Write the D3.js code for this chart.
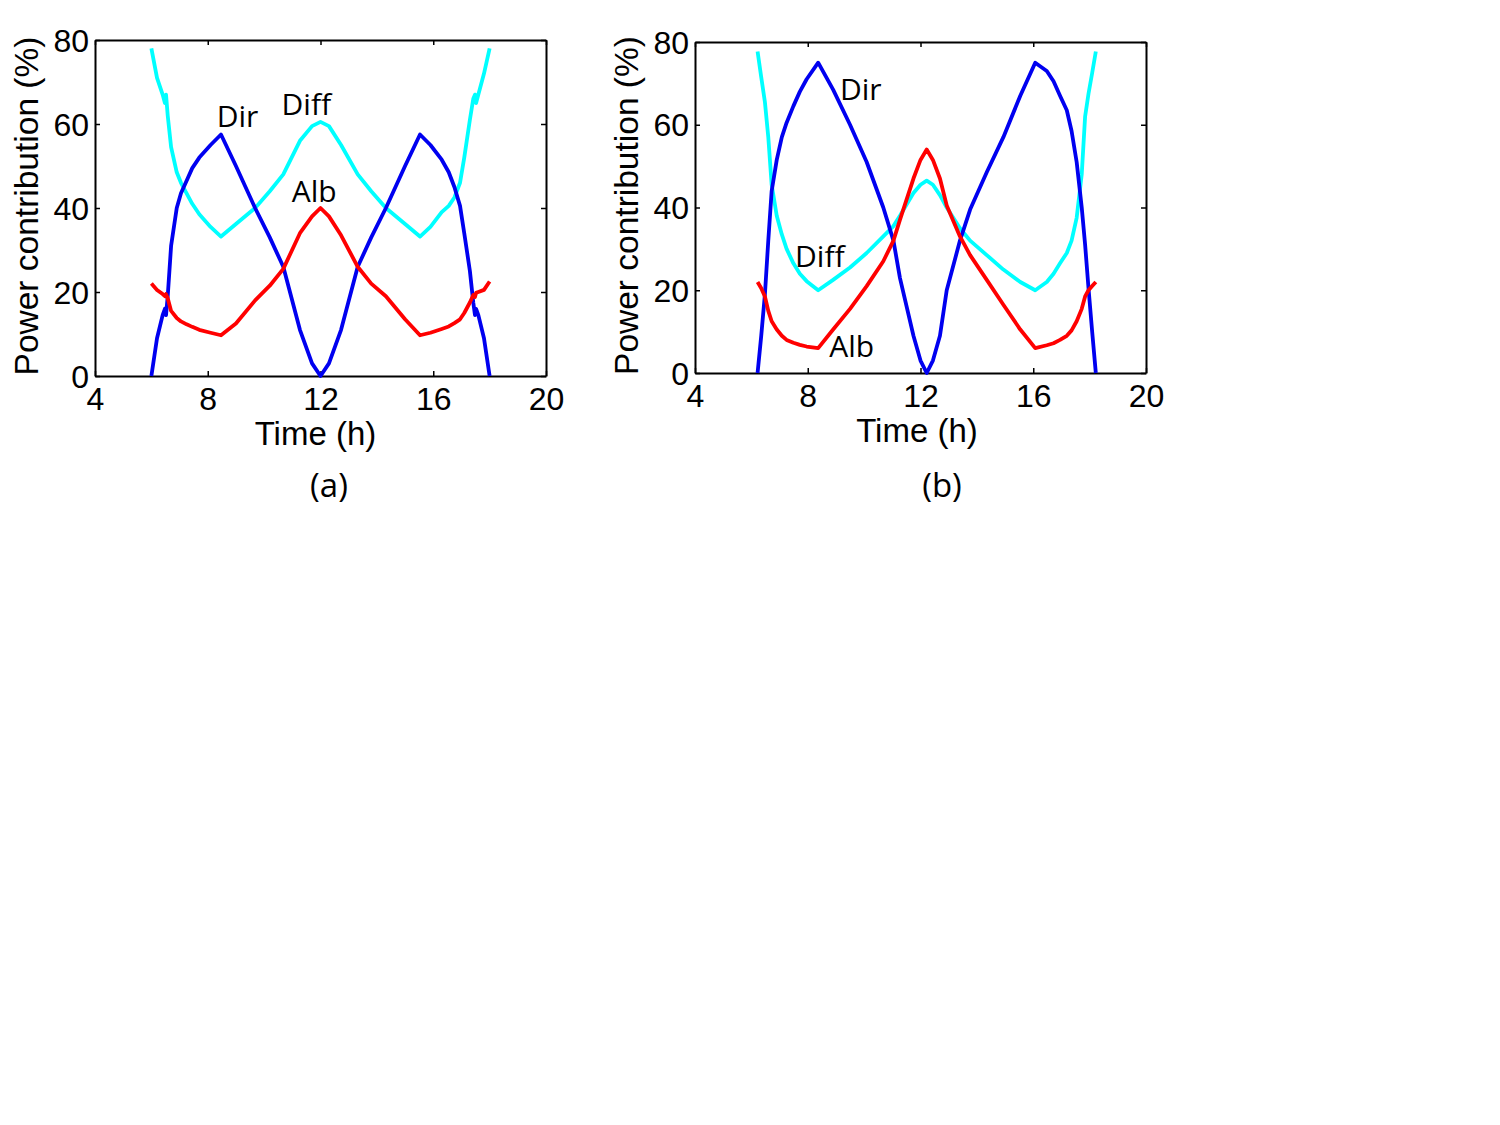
<!DOCTYPE html>
<html>
<head>
<meta charset="utf-8">
<script src="https://cdn.jsdelivr.net/npm/d3@7"></script>
<style>
  body { margin: 0; background: #fff; }
  svg { display: block; }
  .tick text { font-family: "Liberation Sans", Arial, sans-serif; }
</style>
</head>
<body>
<div id="chart"></div>
<script>
// Panel (a)
const hoursA = [6.0, 6.2, 6.4, 6.48, 6.52, 6.58, 6.7, 6.9, 7.05, 7.25, 7.45, 7.7, 8.1, 8.47, 9.0, 9.68, 10.2, 10.68, 11.27, 11.7, 12.0,
  12.3, 12.73, 13.32, 13.8, 14.32, 15.0, 15.53, 15.9, 16.3, 16.55, 16.75, 16.95, 17.1, 17.3, 17.42, 17.48, 17.52, 17.6, 17.8, 18.0]
const dirA = [0, 9, 14.5, 16, 14.5, 19, 31, 40, 43.5, 46.5, 49.5, 52, 55, 57.5, 50, 40, 33, 26, 11, 3, 0,
  3, 11, 26, 33, 40, 50, 57.5, 55, 51.5, 48.5, 45, 40.5, 34, 25, 17.5, 14.5, 16, 14.5, 9, 0]
const diffA = [78, 71, 67, 65, 67, 62, 54.5, 48.5, 46, 43.5, 41, 38.5, 35.5, 33.2, 36.2, 40, 44, 48, 56, 59.5, 60.5,
  59.5, 55, 48, 44, 40, 36.2, 33.2, 35.5, 39, 40.5, 42.5, 46, 52, 61, 66, 67, 65, 67, 72, 78]
const albA = [22, 20.5, 19.5, 19, 19.5, 18.5, 15.5, 13.8, 13, 12.3, 11.7, 11, 10.3, 9.7, 12.5, 18, 21.5, 25.5, 34, 38, 40,
  38, 33.5, 26, 22, 19, 13.5, 9.7, 10.3, 11.2, 11.8, 12.6, 13.5, 15, 17.5, 19.3, 18.8, 19.8, 20, 20.5, 22.5]

// Panel (b)
const hoursB = [6.22, 6.35, 6.48, 6.6, 6.72, 6.9, 7.08, 7.25, 7.49, 7.72, 7.96, 8.37, 8.9, 9.5, 10.09, 10.68, 11.04, 11.27, 11.75, 12.0, 12.22,
  12.44, 12.69, 12.93, 13.4, 13.76, 14.35, 14.94, 15.54, 16.07, 16.48, 16.72, 16.95, 17.19, 17.36, 17.54, 17.72, 17.84, 17.96, 18.09, 18.22]
const dirB = [0, 9, 19, 32, 44, 51.5, 57, 60.5, 64.5, 68, 71, 75, 68.5, 60, 51, 40, 32, 23, 9, 3, 0,
  3, 9, 20, 32, 39.5, 48.5, 57, 67, 75, 73, 70.5, 67, 63.5, 58.5, 51, 40, 31, 20.5, 10, 0]
const diffB = [77.7, 71.5, 65.5, 57, 45.5, 38, 33.5, 30, 26.5, 24, 22.2, 20, 22.5, 25.5, 29, 33, 35.5, 38, 43.5, 45.5, 46.5,
  45.5, 43, 40, 35, 32, 28.5, 25, 22, 20, 22, 24, 26.5, 29, 32, 37.5, 48, 62, 67.5, 72.5, 77.7]
const albB = [22, 20.5, 18.5, 15, 12.5, 10.5, 9, 8, 7.3, 6.8, 6.4, 6, 10.5, 15.5, 21, 27, 32, 37, 47, 51.5, 54,
  51.5, 47, 40.5, 33, 28.5, 22.5, 16.5, 10.5, 6, 6.7, 7.2, 8, 9, 10.3, 12.5, 15.5, 18.5, 20, 21, 22]

// Curve labels [text, hour, value]
const labelsA = [["Dir", 8.32, 59.2], ["Diff", 10.62, 62.1], ["Alb", 10.98, 41.5]]
const labelsB = [["Dir", 9.14, 66.0], ["Diff", 7.55, 25.7], ["Alb", 8.76, 3.9]]

const xTicks = [4, 8, 12, 16, 20]
const yTicks = [0, 20, 40, 60, 80]

const COLORS = { dir: "#0000f0", diff: "#00ffff", alb: "#ff0000" }

const panels = [
  { hours: hoursA, dir: dirA, diff: diffA, alb: albA, labels: labelsA, tag: "(a)",
    left: 95, right: 546, top: 40, bottom: 376, yTitleX: 38, xTitleX: 315.5, xTitleY: 445, tagX: 329, tickY: 34 },
  { hours: hoursB, dir: dirB, diff: diffB, alb: albB, labels: labelsB, tag: "(b)",
    left: 695, right: 1146, top: 42, bottom: 373, yTitleX: 638, xTitleX: 917, xTitleY: 442, tagX: 942, tickY: 34 }
]

const svg = d3.select("#chart").append("svg")
  .attr("width", 1500)
  .attr("height", 1125)

panels.forEach(p => {
  const x = d3.scaleLinear().domain([4, 20]).range([p.left, p.right])
  const y = d3.scaleLinear().domain([0, 80]).range([p.bottom, p.top])
  const g = svg.append("g")

  const styleAxis = sel => {
    sel.selectAll(".domain").attr("stroke", "#000").attr("stroke-width", 2)
    sel.selectAll(".tick line").attr("stroke", "#000").attr("stroke-width", 1.5)
    sel.selectAll(".tick text").attr("fill", "#000").style("font-size", "32px")
  }

  g.append("g")
    .attr("transform", `translate(0,${p.bottom})`)
    .call(d3.axisBottom(x).tickValues(xTicks).tickSizeInner(-5).tickSizeOuter(0).tickPadding(0))
    .call(styleAxis)
    .call(s => s.selectAll(".tick text").attr("y", p.tickY).attr("dy", null))

  g.append("g")
    .attr("transform", `translate(0,${p.top})`)
    .call(d3.axisTop(x).tickValues(xTicks).tickSizeInner(-5).tickSizeOuter(0).tickFormat(""))
    .call(styleAxis)

  g.append("g")
    .attr("transform", `translate(${p.left},0)`)
    .call(d3.axisLeft(y).tickValues(yTicks).tickSizeInner(-5).tickSizeOuter(0).tickPadding(0))
    .call(styleAxis)
    .call(s => s.selectAll(".tick text").attr("x", -6).attr("dy", "0.35em"))

  g.append("g")
    .attr("transform", `translate(${p.right},0)`)
    .call(d3.axisRight(y).tickValues(yTicks).tickSizeInner(-5).tickSizeOuter(0).tickFormat(""))
    .call(styleAxis)

  const line = key => d3.line()
    .x((d, i) => x(p.hours[i]))
    .y(d => y(d))(p[key])

  ;["diff", "dir", "alb"].forEach(key => {
    g.append("path")
      .attr("d", line(key))
      .attr("fill", "none")
      .attr("stroke", COLORS[key])
      .attr("stroke-width", 3.8)
      .attr("stroke-linejoin", "round")
  })

  g.selectAll(".curve-label")
    .data(p.labels)
    .join("text")
    .attr("x", d => x(d[1]))
    .attr("y", d => y(d[2]))
    .style("font-family", "'Open Sans', sans-serif")
    .style("font-size", "30px")
    .attr("fill", "#000")
    .text(d => d[0])

  g.append("text")
    .attr("x", p.xTitleX)
    .attr("y", p.xTitleY)
    .attr("text-anchor", "middle")
    .style("font-family", "'Liberation Sans', Arial, sans-serif")
    .style("font-size", "33px")
    .text("Time (h)")

  g.append("text")
    .attr("transform", `translate(${p.yTitleX},${(p.top + p.bottom) / 2 - 2}) rotate(-90)`)
    .attr("text-anchor", "middle")
    .style("font-family", "'Liberation Sans', Arial, sans-serif")
    .style("font-size", "33.5px")
    .text("Power contribution (%)")

  g.append("text")
    .attr("x", p.tagX)
    .attr("y", 497)
    .attr("text-anchor", "middle")
    .style("font-family", "'Open Sans', sans-serif")
    .style("font-size", "33px")
    .text(p.tag)
})
</script>
</body>
</html>
